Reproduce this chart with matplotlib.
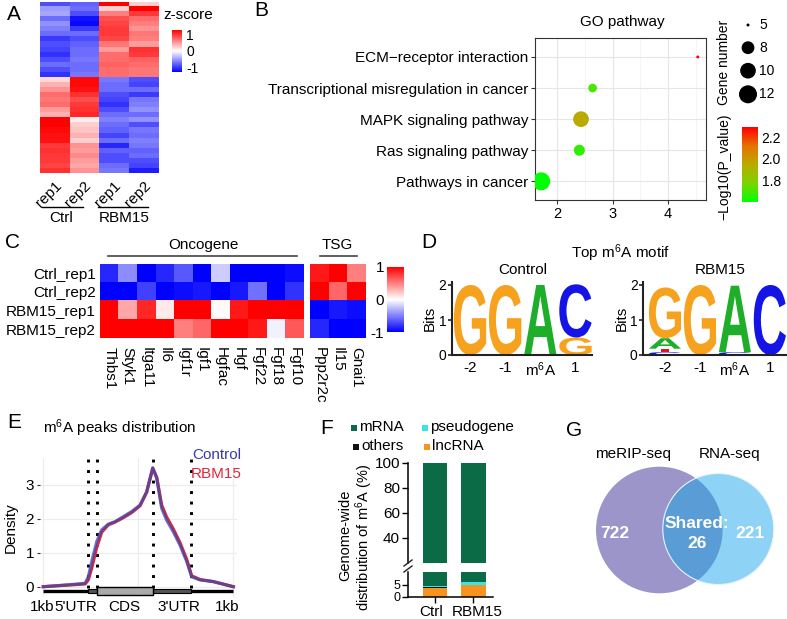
import numpy as np
import matplotlib
matplotlib.use("Agg")
import matplotlib.pyplot as plt
from matplotlib.colors import LinearSegmentedColormap
from matplotlib.patches import Circle, Rectangle, PathPatch
from matplotlib.textpath import TextPath
from matplotlib.font_manager import FontProperties
from matplotlib.transforms import Affine2D

plt.rcParams.update({
    "font.family": ["Liberation Sans", "DejaVu Sans"],
    "mathtext.fontset": "custom",
    "mathtext.rm": "Liberation Sans",
    "mathtext.it": "Liberation Sans:italic",
    "mathtext.bf": "Liberation Sans:bold",
    "font.size": 11,
})

# ---------------- data ----------------
# A: z-score heatmap (rows top -> bottom)
a_cols = ["rep1", "rep2", "rep1", "rep2"]
a_groups = ["Ctrl", "RBM15"]
a_ctrl_rep1 = [-0.9, -0.5, -0.45, -0.75, -0.55, -0.65, -0.75, -1.0, -0.9, -0.95, -1.05, -0.9, -0.75, -0.9, -1.05,
               0.2, 0.4, 0.55, 0.75, 0.7, 0.75, 0.5, 0.4, 1.3, 1.3, 1.25, 1.2, 1.2, 1.0, 1.05, 1.0, 1.0, 0.95, 1.05]
a_ctrl_rep2 = [-0.8, -0.75, -0.9, -1.2, -1.25, -1.0, -0.75, -0.9, -0.8, -0.75, -0.75, -0.7, -0.75, -0.75, -0.7,
               1.25, 1.25, 1.2, 1.05, 0.9, 1.0, 1.05, 1.1, 0.1, 0.25, 0.3, 0.4, 0.25, 0.55, 0.5, 0.6, 0.5, 0.45, 0.55]
a_rbm_rep1 = [1.3, 0.25, 0.65, 0.9, 0.95, 1.0, 1.0, 0.95, 0.7, 0.5, 0.75, 0.75, 0.8, 0.75, 0.75,
              -0.7, -0.75, -0.75, -0.9, -0.95, -1.05, -0.9, -0.75, -0.65, -0.75, -0.8, -0.95, -0.75, -1.1, -0.8, -0.9, -0.9, -0.75, -0.7]
a_rbm_rep2 = [0.25, 1.3, 1.0, 0.75, 0.65, 0.55, 0.7, 0.65, 0.5, 1.05, 1.0, 0.8, 0.75, 0.7, 0.7,
              -0.9, -0.95, -0.75, -1.0, -0.7, -0.65, -0.55, -0.75, -0.55, -0.9, -0.7, -0.75, -0.65, -0.7, -0.8, -0.75, -0.9, -0.95, -1.15]

# B: GO pathway bubble chart
b_terms = ["ECM\u2212receptor interaction", "Transcriptional misregulation in cancer",
           "MAPK signaling pathway", "Ras signaling pathway", "Pathways in cancer"]
b_ratio = [4.54, 2.64, 2.43, 2.40, 1.71]
b_genes = [5, 6, 10, 7, 12]
b_logp = [2.30, 1.70, 1.95, 1.66, 1.59]
b_size_breaks = [5, 8, 10, 12]

# C: oncogene / TSG heatmap
c_samples = ["Ctrl_rep1", "Ctrl_rep2", "RBM15_rep1", "RBM15_rep2"]
c_onc_genes = ["Thbs1", "Styk1", "Itga11", "Il6", "Igf1r", "Igf1", "Hgfac", "Hgf", "Fgf22", "Fgf18", "Fgf10"]
c_tsg_genes = ["Ppp2r2c", "Il15", "Gnai1"]
c_ctrl_rep1 = [-0.85, -0.45, -1.0, -0.85, -0.65, -1.0, -0.2, -1.0, -1.0, -1.0, -0.95, 0.9, 1.0, 0.5]
c_ctrl_rep2 = [-1.0, -1.0, -0.75, -1.0, -0.95, -0.9, -1.0, -0.9, -0.55, -1.0, -0.8, 1.0, 0.6, 1.0]
c_rbm_rep1 = [1.0, 0.35, 0.85, 0.08, 1.0, 1.0, 0.02, 0.9, 1.0, 1.0, 1.0, -1.0, -0.9, -0.95]
c_rbm_rep2 = [1.0, 1.0, 1.0, 1.0, 0.5, 0.6, 1.0, 1.0, 0.9, -0.05, 0.65, -0.85, -1.0, -1.0]

# D: motif logos (bits per position)
d_positions = ["-2", "-1", "m$^6$A", "1"]
ctrl_A = [0, 0, 2.0, 0]
ctrl_C = [0, 0, 0, 1.52]
ctrl_G = [2.0, 2.0, 0, 0.5]
ctrl_T = [0, 0, 0, 0]
rbm_A = [0.30, 0, 1.90, 0]
rbm_C = [0.08, 0, 0.08, 2.0]
rbm_G = [1.45, 2.0, 0, 0]
rbm_T = [0.10, 0, 0, 0]

# E: metagene density
e_bounds = [23.4, 28.4, 57.6, 77.6]
e_x = [0, 14, 22, 23.7, 25.5, 28.1, 30.7, 34.2, 37.7, 42.1, 46.5, 50.9, 54.4, 57.6,
       59.7, 62.3, 64.9, 68.4, 71.9, 75.5, 78.1, 82.5, 89.5, 100]
e_control = [0.0, 0.06, 0.1, 0.29, 0.74, 1.32, 1.67, 1.84, 1.91, 2.06, 2.21, 2.40, 2.79, 3.50,
             3.19, 2.31, 1.96, 1.62, 1.23, 0.74, 0.29, 0.20, 0.15, 0.0]
e_rbm15 = [0.0, 0.05, 0.08, 0.2, 0.55, 1.15, 1.6, 1.82, 1.9, 2.03, 2.18, 2.38, 2.78, 3.48,
           3.22, 2.40, 2.05, 1.70, 1.30, 0.80, 0.32, 0.21, 0.15, 0.0]

# F: stacked distribution (%)
f_groups = ["Ctrl", "RBM15"]
f_lncrna = [3.7, 4.6]
f_others = [0.3, 0.4]
f_pseudo = [0.5, 0.9]
f_mrna = [95.5, 94.1]

# G: venn counts
g_sets = ["meRIP-seq", "RNA-seq"]
g_only_merip = 722
g_shared = 26
g_only_rna = 221

# ---------------- layout helpers ----------------
W, H = 787, 619
fig = plt.figure(figsize=(W / 100, H / 100), dpi=100)


def box(x0, y0, x1, y1):
    return [x0 / W, 1 - y1 / H, (x1 - x0) / W, (y1 - y0) / H]


def clean(ax):
    for s in ax.spines.values():
        s.set_visible(False)


# ---------------- A ----------------
axA = fig.add_axes(box(39.7, 1.7, 158, 173))
matA = np.array([a_ctrl_rep1, a_ctrl_rep2, a_rbm_rep1, a_rbm_rep2]).T
imA = axA.imshow(matA, cmap="bwr", vmin=-1.3, vmax=1.3, aspect="auto", interpolation="nearest")
clean(axA)
axA.set_yticks([])
axA.set_xticks(range(4))
axA.set_xticklabels(a_cols, rotation=45, ha="right", va="top", rotation_mode="anchor", fontsize=11)
axA.tick_params(axis="x", length=0, pad=4)

caxA = fig.add_axes(box(172, 30, 182, 72))
cbA = fig.colorbar(imA, cax=caxA, ticks=[-1, 0, 1])
cbA.outline.set_visible(False)
cbA.ax.set_yticklabels(["-1", "0", "1"])
cbA.ax.tick_params(length=0, labelsize=10, pad=3)

# ---------------- B ----------------
go_cmap = LinearSegmentedColormap.from_list(
    "go", ["#00ff00", "#7ad400", "#b9ab00", "#e47400", "#ff0000"])


def dot_area(g):
    d_px = 3 + 15 * np.sqrt((np.asarray(g, dtype=float) - 5) / 7)
    return (d_px * 0.72) ** 2


axB = fig.add_axes(box(535.3, 38.3, 705.5, 200))
b_pos = np.arange(len(b_terms), 0, -1)
scB = axB.scatter(b_ratio, b_pos, s=dot_area(b_genes), c=b_logp, cmap=go_cmap,
                  vmin=min(b_logp), vmax=max(b_logp), edgecolors="none", zorder=3)
axB.set_xlim(1.604, 4.68)
axB.set_ylim(0.4, 5.6)
axB.set_xticks([2, 3, 4])
axB.set_xticks([2.5, 3.5, 4.5], minor=True)
axB.set_yticks(b_pos)
axB.set_yticklabels(b_terms)
axB.grid(which="major", color="#e6e6e6", lw=0.8)
axB.grid(which="minor", axis="x", color="#f2f2f2", lw=0.5)
axB.set_axisbelow(True)
axB.tick_params(which="minor", length=0)
axB.tick_params(which="major", length=3, width=0.8, color="#333333", labelsize=11, pad=2)
axB.tick_params(axis="x", labelsize=10.5)
for s in axB.spines.values():
    s.set_color("#333333")
    s.set_linewidth(0.8)

caxB = fig.add_axes(box(742, 127.3, 757.5, 202.3))
cbB = fig.colorbar(scB, cax=caxB, ticks=[1.8, 2.0, 2.2])
cbB.outline.set_visible(False)
cbB.ax.set_yticklabels(["1.8", "2.0", "2.2"])
cbB.ax.tick_params(length=0, labelsize=10, pad=3)

# ---------------- C ----------------
matC = np.array([c_ctrl_rep1, c_ctrl_rep2, c_rbm_rep1, c_rbm_rep2])
n_onc = len(c_onc_genes)
axC1 = fig.add_axes(box(100, 264, 304, 338.3))
imC = axC1.imshow(matC[:, :n_onc], cmap="bwr", vmin=-1, vmax=1, aspect="auto", interpolation="nearest")
axC2 = fig.add_axes(box(310, 264, 365.7, 338.3))
axC2.imshow(matC[:, n_onc:], cmap="bwr", vmin=-1, vmax=1, aspect="auto", interpolation="nearest")
for ax, genes in ((axC1, c_onc_genes), (axC2, c_tsg_genes)):
    clean(ax)
    ax.set_xticks(range(len(genes)))
    ax.set_xticklabels(genes, rotation=-90, ha="center", va="top", fontsize=11)
    ax.tick_params(axis="x", length=0, pad=6)
    ax.set_yticks([])
axC1.set_yticks(range(len(c_samples)))
axC1.set_yticklabels(c_samples, fontsize=11)
axC1.tick_params(axis="y", length=0, pad=3)

caxC = fig.add_axes(box(387, 267, 404, 332))
cbC = fig.colorbar(imC, cax=caxC, ticks=[-1, 0, 1])
cbC.outline.set_visible(False)
cbC.ax.yaxis.set_ticks_position("left")
cbC.ax.set_yticklabels(["-1", "0", "1"])
cbC.ax.tick_params(length=0, labelsize=11, pad=2)

# ---------------- D ----------------
LOGO_COLORS = {"A": "#1fae2a", "C": "#1414e6", "G": "#f6a21e", "T": "#e3161e"}
bold = FontProperties(family="Liberation Sans", weight="bold")


def draw_logo(ax, heights):
    n = len(heights["A"])
    for i in range(n):
        stack = sorted((h[i], k) for k, h in heights.items() if h[i] > 0)
        y = 0.0
        for h, letter in stack:
            tp = TextPath((0, 0), letter, size=1, prop=bold)
            bb = tp.get_extents()
            tr = (Affine2D().translate(-bb.x0, -bb.y0)
                  .scale(0.92 / bb.width, h / bb.height)
                  .translate(i - 0.46, y))
            ax.add_patch(PathPatch(tr.transform_path(tp), color=LOGO_COLORS[letter], lw=0))
            y += h


logos = [
    (box(451.7, 282.2, 592, 355), (-0.52, 3.47), {"A": ctrl_A, "C": ctrl_C, "G": ctrl_G, "T": ctrl_T}),
    (box(643.3, 282.2, 787, 355), (-0.62, 3.49), {"A": rbm_A, "C": rbm_C, "G": rbm_G, "T": rbm_T}),
]
for rect, xl, heights in logos:
    ax = fig.add_axes(rect)
    draw_logo(ax, heights)
    ax.set_xlim(*xl)
    ax.set_ylim(0, 2.08)
    ax.spines["top"].set_visible(False)
    ax.spines["right"].set_visible(False)
    for side in ("left", "bottom"):
        ax.spines[side].set_linewidth(1.5)
        ax.spines[side].set_color("#222222")
    ax.set_yticks([0, 1, 2])
    ax.tick_params(axis="y", length=3, width=1.2, color="#222222", labelsize=10, pad=1)
    ax.set_xticks(range(4))
    ax.set_xticklabels(d_positions, fontsize=11)
    ax.tick_params(axis="x", length=0, pad=4)
    ax.set_ylabel("Bits", fontsize=11, labelpad=1)
    ax.patch.set_visible(False)

# ---------------- E ----------------
axE = fig.add_axes(box(39.5, 458.2, 237.1, 596.9))
axE.set_xlim(-2, 102)
axE.set_ylim(-0.3, 3.78)
for yy in range(4):
    axE.axhline(yy, color="#ececec", lw=0.8, zorder=0)
for xx in (0, 50, 100):
    axE.axvline(xx, color="#ececec", lw=0.8, zorder=0)
axE.vlines(e_bounds, -0.05, 3.78, colors="black", linestyles=(0, (1, 2.6)), lw=2.1, zorder=2)
axE.plot(e_x, e_rbm15, color="#e0283c", lw=2.3, solid_joinstyle="round", zorder=3)
axE.plot(e_x, e_control, color="#4848a8", lw=2.3, alpha=0.78, solid_joinstyle="round", zorder=4)
# gene model
axE.plot([0, 100], [-0.12, -0.12], color="black", lw=2.4, zorder=5, solid_capstyle="butt")
axE.add_patch(Rectangle((e_bounds[0], -0.185), e_bounds[1] - e_bounds[0], 0.13,
                        fc="#555555", ec="black", lw=0.8, zorder=6))
axE.add_patch(Rectangle((e_bounds[2], -0.185), e_bounds[3] - e_bounds[2], 0.13,
                        fc="#555555", ec="black", lw=0.8, zorder=6))
axE.add_patch(Rectangle((e_bounds[1], -0.245), e_bounds[2] - e_bounds[1], 0.245,
                        fc="#aaaaaa", ec="black", lw=1.0, zorder=7))
for lab, xx in zip(["1kb", "5'UTR", "CDS", "3'UTR", "1kb"], [-0.4, 17.1, 42.5, 71.4, 96.9]):
    axE.text(xx, -0.6, lab, ha="center", va="center", fontsize=11, clip_on=False)
clean(axE)
axE.set_xticks([])
axE.set_yticks([0, 1, 2, 3])
axE.tick_params(axis="y", length=2, width=0.8, color="#333333", labelsize=11, pad=2)

# ---------------- F ----------------
f_colors = ["#f7931e", "#111111", "#38e3ee", "#0b6b47"]
f_layers = [f_lncrna, f_others, f_pseudo, f_mrna]
axFu = fig.add_axes(box(408.3, 462.7, 493, 562.7))
axFl = fig.add_axes(box(408.3, 572.3, 493, 596.7))
xs = np.arange(len(f_groups))
for ax in (axFu, axFl):
    bottom = np.zeros(len(f_groups))
    for vals, col in zip(f_layers, f_colors):
        ax.bar(xs, vals, bottom=bottom, width=0.65, color=col, lw=0)
        bottom += np.asarray(vals)
    ax.set_xlim(-0.7, 1.52)
    ax.spines["top"].set_visible(False)
    ax.spines["right"].set_visible(False)
    ax.spines["left"].set_linewidth(1.1)
    ax.spines["bottom"].set_linewidth(1.1)
    ax.tick_params(length=4, width=1.0, labelsize=11, pad=2)
axFu.set_ylim(20, 100)
axFu.set_yticks([40, 60, 80, 100])
axFu.spines["bottom"].set_visible(False)
axFu.set_xticks([])
axFl.set_ylim(0, 10)
axFl.set_yticks([0, 5])
axFl.tick_params(axis="y", labelsize=9, pad=1.5)
axFl.set_xticks(xs)
axFl.set_xticklabels(["", ""])

# ---------------- overlay (texts, legends, venn) ----------------
ax_o = fig.add_axes([0, 0, 1, 1])
ax_o.set_xlim(0, W)
ax_o.set_ylim(H, 0)
ax_o.axis("off")
ax_o.patch.set_visible(False)


def t(x, y, s, **kw):
    kw.setdefault("ha", "center")
    kw.setdefault("va", "center")
    kw.setdefault("fontsize", 11)
    ax_o.text(x, y, s, **kw)


for lab, x, y in [("A", 14, 15), ("B", 261, 11), ("C", 12, 243), ("D", 429, 242),
                  ("E", 14, 423), ("F", 327, 428), ("G", 574, 431)]:
    t(x, y, lab, fontsize=15)

# A annotations
t(163, 15, "z-score", ha="left")
ax_o.plot([41.7, 83.3], [206.7, 206.7], color="black", lw=1)
ax_o.plot([98.3, 148.3], [206.7, 206.7], color="black", lw=1)
t(61, 218, a_groups[0])
t(124, 218, a_groups[1])

# B annotations
t(622, 22, "GO pathway")
t(724, 62, "Gene number", rotation=90, fontsize=10)
t(724, 167, "\u2212Log10(P_value)", rotation=90, fontsize=10)
for g, yy in zip(b_size_breaks, [25, 47.7, 70.7, 94.3]):
    ax_o.scatter([748], [yy], s=dot_area([g]), color="black", edgecolors="none")
    t(759, yy, str(g), ha="left", fontsize=10)

# C annotations
ax_o.plot([108, 297], [256, 256], color="#444444", lw=1.2)
ax_o.plot([320, 356.7], [256, 256], color="#444444", lw=1.2)
t(203, 245, "Oncogene")
t(337, 245, "TSG")

# D annotations
t(621, 253, "Top m$^6$A motif")
t(523, 270, "Control")
t(720, 270, "RBM15")

# E annotations
t(120, 428, "m$^6$A peaks distribution")
t(11, 528, "Density", rotation=90)
t(241.7, 455, "Control", ha="right", color="#3a3aa6")
t(241.7, 474, "RBM15", ha="right", color="#e3263a")

# F annotations
for lab, col, x, y in [("mRNA", f_colors[3], 354, 427), ("pseudogene", f_colors[2], 425, 427),
                       ("others", f_colors[1], 356, 446), ("lncRNA", f_colors[0], 427, 446)]:
    ax_o.scatter([x], [y + 1], s=14, marker="s", color=col, edgecolors="none")
    t(x + 5, y, lab, ha="left")
t(345, 535, "Genome-wide", rotation=90, fontsize=10.5)
t(364, 537, "distribution of m$^6$A (%)", rotation=90, fontsize=10.5)
t(431, 612, f_groups[0])
t(477, 612, f_groups[1])
ax_o.plot([404, 412], [566, 560], color="#222222", lw=1.0)
ax_o.plot([404, 412], [572, 566], color="#222222", lw=1.0)

# G venn
c_merip = ax_o.add_patch(Circle((659.3, 530), 63.3, fc="#9c95c9", ec="none"))
ax_o.add_patch(Circle((718.3, 529), 55.5, fc="#8ed2f6", ec="none"))
lens = ax_o.add_patch(Circle((718.3, 529), 55.5, fc="#5a9cd6", ec="none"))
lens.set_clip_path(c_merip)
ax_o.add_patch(Circle((718.3, 529), 55.5, fc="none", ec="#e8f4fb", lw=0.8))
t(633, 454, g_sets[0])
t(730, 454, g_sets[1])
t(615, 534, str(g_only_merip), color="white", fontweight="bold", fontsize=12.5)
t(697, 523, "Shared:", color="white", fontweight="bold", fontsize=12.5)
t(697, 543, str(g_shared), color="white", fontweight="bold", fontsize=12.5)
t(750, 534, str(g_only_rna), color="white", fontweight="bold", fontsize=12.5)

fig.savefig("out.png", dpi=100)
